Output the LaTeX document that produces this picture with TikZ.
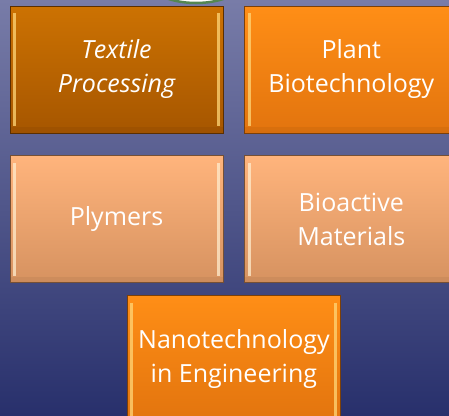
\documentclass[tikz,border=0pt]{standalone}
\usepackage{fontspec}
\setmainfont{Open Sans}
\usetikzlibrary{positioning}

\definecolor{bgtop}{RGB}{120,124,168}
\definecolor{bgbot}{RGB}{40,48,108}
\definecolor{ringgreen}{RGB}{84,134,82}
\definecolor{darkA}{RGB}{204,114,2}
\definecolor{darkB}{RGB}{166,86,0}
\definecolor{brightA}{RGB}{255,142,22}
\definecolor{brightB}{RGB}{226,116,14}
\definecolor{paleA}{RGB}{255,180,124}
\definecolor{paleB}{RGB}{214,146,96}
\definecolor{glowY}{RGB}{255,214,120}
\definecolor{glowP}{RGB}{255,236,205}

\tikzset{
  box/.style n args={3}{draw=#2!55!black, line width=0.8pt,
    top color=#1, bottom color=#2,
    minimum width=213pt, minimum height=127pt, inner sep=0pt,
    align=center, text=white, font=\fontsize{25}{34}\selectfont,
    path picture={
      \fill[#3, opacity=0.75] ([xshift=3pt,yshift=-7pt]path picture bounding box.north west)
        rectangle ([xshift=6pt,yshift=7pt]path picture bounding box.south west);
      \fill[#3, opacity=0.75] ([xshift=-6pt,yshift=-7pt]path picture bounding box.north east)
        rectangle ([xshift=-3pt,yshift=7pt]path picture bounding box.south east);
      \fill[#2!85!black, opacity=0.3] ([yshift=6pt]path picture bounding box.south west)
        rectangle (path picture bounding box.south east);
    }},
}

\begin{document}
\begin{tikzpicture}[x=1pt,y=-1pt]
\clip (0,0) rectangle (449,415);
\shade[top color=bgtop, bottom color=bgbot] (0,0) rectangle (449,415);
\draw[ringgreen, line width=2.5pt, fill=white] (196,-24) ellipse [x radius=52, y radius=27];

\node[box={darkA}{darkB}{glowY}, font=\fontsize{25}{34}\selectfont\itshape] (tp) at (116.5,69.5) {Textile\\Processing};
\node[box={brightA}{brightB}{glowY}, right=21pt of tp] (pb) {Plant\\Biotechnology};
\node[box={paleA}{paleB}{glowP}, below=22pt of tp] (ply) {Plymers};
\node[box={paleA}{paleB}{glowP}, below=22pt of pb] (bio) {Bioactive\\Materials};
\node[box={brightA}{brightB}{glowY}, below=12pt of ply.south east, xshift=10.5pt] (nano) {Nanotechnology\\in Engineering};
\end{tikzpicture}
\end{document}
